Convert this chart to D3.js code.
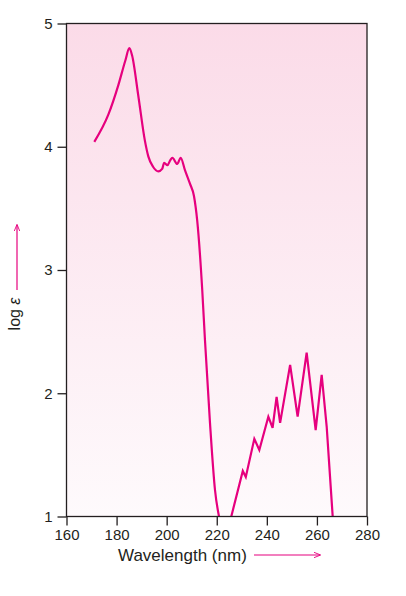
<!DOCTYPE html>
<meta charset="utf-8">
<style>
    body { margin: 0; background: #fff; }
    text {
        font-family: "Liberation Sans", Arial, sans-serif;
        fill: #231f20;
    }
</style>
<svg width="406" height="596"></svg>
<script src="https://d3js.org/d3.v7.min.js"></script>
<script>

    // smooth part of the spectrum (nm, log e)
    var wave1 = [171.1, 176.7, 180.7, 183.5, 185.1, 186.2, 188.7, 191.3, 192.7, 194.5, 196.7, 198.2, 199.0, 200.3, 201.4, 202.3, 204.2, 205.6, 207.3, 209.3, 210.9, 212.2, 214.2, 215.3, 217.3, 219.3, 220.9];
    var log1 = [4.04, 4.26, 4.50, 4.70, 4.80, 4.74, 4.41, 4.05, 3.92, 3.84, 3.80, 3.82, 3.87, 3.85, 3.89, 3.91, 3.86, 3.91, 3.81, 3.70, 3.60, 3.40, 2.84, 2.43, 1.76, 1.215, 1.0];

    // fine structure band
    var wave2 = [225.8, 230.4, 231.6, 235.0, 237.0, 240.6, 242.3, 243.9, 245.3, 249.3, 252.3, 255.9, 259.5, 261.9, 263.9, 266.3];
    var log2 = [1.0, 1.37, 1.32, 1.63, 1.54, 1.81, 1.72, 1.97, 1.76, 2.23, 1.81, 2.33, 1.70, 2.15, 1.73, 1.0];

    var xTicks = [160, 180, 200, 220, 240, 260, 280];
    var yTicks = [1, 2, 3, 4, 5];

    var svg = d3.select("svg"),
        margin = {top: 23.5, right: 39, bottom: 79.5, left: 66.5},
        width = 406 - margin.left - margin.right,
        height = 596 - margin.top - margin.bottom;

    var x = d3.scaleLinear().domain([160, 280]).range([0, width]);
    var y = d3.scaleLinear().domain([1, 5]).range([height, 0]);

    var defs = svg.append("defs");
    var grad = defs.append("linearGradient")
        .attr("id", "bg")
        .attr("x1", 0).attr("y1", 0).attr("x2", 0).attr("y2", 1);
    grad.append("stop").attr("offset", "0%").attr("stop-color", "#fbdbe8");
    grad.append("stop").attr("offset", "100%").attr("stop-color", "#fefafc");

    defs.append("clipPath").attr("id", "clip")
        .append("rect").attr("width", width).attr("height", height);

    defs.append("marker")
        .attr("id", "arrow")
        .attr("viewBox", "0 -5 10 10")
        .attr("refX", 9)
        .attr("refY", 0)
        .attr("markerWidth", 7)
        .attr("markerHeight", 7)
        .attr("markerUnits", "userSpaceOnUse")
        .attr("orient", "auto")
        .append("path")
        .attr("d", "M0,-4L10,0L0,4")
        .attr("fill", "none")
        .attr("stroke", "#e6007e")
        .attr("stroke-width", 1.3);

    var g = svg.append("g").attr("transform", "translate(" + margin.left + "," + margin.top + ")");

    g.append("rect")
        .attr("width", width)
        .attr("height", height)
        .attr("fill", "url(#bg)");

    var line = d3.line()
        .x(function (d) { return x(d[0]); })
        .y(function (d) { return y(d[1]); });

    var plot = g.append("g").attr("clip-path", "url(#clip)");

    plot.append("path")
        .datum(d3.zip(wave1, log1))
        .attr("fill", "none")
        .attr("stroke", "#e6007e")
        .attr("stroke-width", 2.2)
        .attr("d", line.curve(d3.curveMonotoneX));

    plot.append("path")
        .datum(d3.zip(wave2, log2))
        .attr("fill", "none")
        .attr("stroke", "#e6007e")
        .attr("stroke-width", 2.2)
        .attr("stroke-linejoin", "miter")
        .attr("d", line.curve(d3.curveLinear));

    // frame
    g.append("rect")
        .attr("width", width)
        .attr("height", height)
        .attr("fill", "none")
        .attr("stroke", "#231f20")
        .attr("stroke-width", 1.3);

    var xAxis = g.append("g")
        .attr("transform", "translate(0," + height + ")")
        .call(d3.axisBottom(x).tickValues(xTicks).tickSize(9).tickPadding(4));

    var yAxis = g.append("g")
        .call(d3.axisLeft(y).tickValues(yTicks).tickFormat(d3.format("d")).tickSize(9).tickPadding(5));

    [xAxis, yAxis].forEach(function (a) {
        a.select(".domain").remove();
        a.selectAll(".tick line").attr("stroke", "#231f20").attr("stroke-width", 1.3);
        a.selectAll(".tick text")
            .attr("fill", "#231f20")
            .style("font-family", "\"Liberation Sans\", Arial, sans-serif")
            .style("font-size", "15px");
    });

    // x label + arrow
    svg.append("text")
        .attr("x", 118)
        .attr("y", 561)
        .style("font-size", "17px")
        .text("Wavelength (nm)");

    svg.append("line")
        .attr("x1", 254).attr("y1", 555)
        .attr("x2", 320).attr("y2", 555)
        .attr("stroke", "#e6007e")
        .attr("stroke-width", 1.2)
        .attr("marker-end", "url(#arrow)");

    // y label + arrow
    var yl = svg.append("text")
        .attr("transform", "translate(20,314) rotate(-90)")
        .attr("text-anchor", "middle")
        .style("font-size", "16px");
    yl.append("tspan").text("log ");
    yl.append("tspan").style("font-style", "italic").text("ε");

    svg.append("line")
        .attr("x1", 17).attr("y1", 290)
        .attr("x2", 17).attr("y2", 225)
        .attr("stroke", "#e6007e")
        .attr("stroke-width", 1.2)
        .attr("marker-end", "url(#arrow)");

</script>
